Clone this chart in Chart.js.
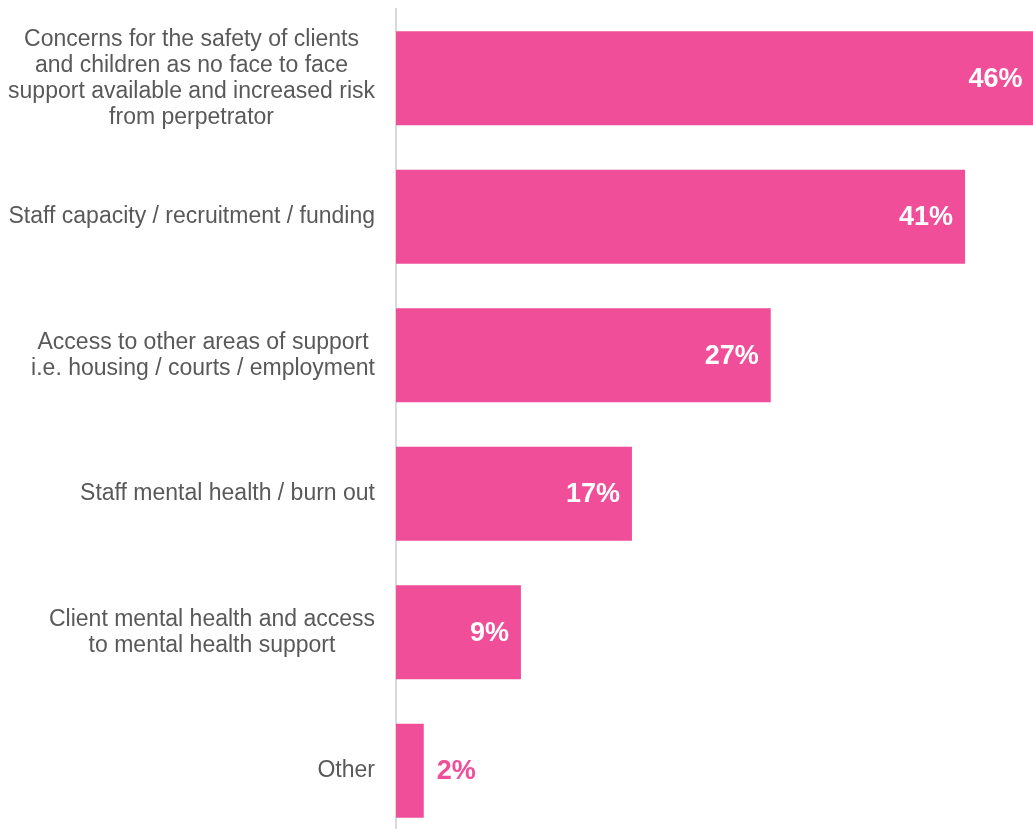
<!DOCTYPE html>
<html>
<head>
<meta charset="utf-8">
<script src="https://cdn.jsdelivr.net/npm/chart.js@4"></script>
<style>
  html, body { margin: 0; padding: 0; background: #fff; overflow: hidden; }
  #wrap { width: 1040px; height: 840px; }
</style>
</head>
<body>
<div id="wrap"><canvas id="barChart"></canvas></div>
<script>
// categories (each inner array is one label, split into lines)
var categories = [
  ['Concerns for the safety of clients', 'and children as no face to face', 'support available and increased risk', 'from perpetrator'],
  ['Staff capacity / recruitment / funding'],
  ['Access to other areas of support', 'i.e. housing / courts / employment'],
  ['Staff mental health / burn out'],
  ['Client mental health and access', 'to mental health support'],
  ['Other']
];
var percentages = [46, 41, 27, 17, 9, 2];

var pink = '#F04E98';
var grey = '#595959';

// category labels: each block centred on its own widest line, block right-aligned to the axis
var categoryLabels = {
  id: 'categoryLabels',
  afterDraw: function(chart) {
    var ctx = chart.ctx;
    var yScale = chart.scales.y;
    var rightEdge = chart.chartArea.left - 21;
    var lineH = 26;
    ctx.save();
    ctx.font = '23px "Liberation Sans", Arial, sans-serif';
    ctx.fillStyle = grey;
    ctx.textAlign = 'center';
    ctx.textBaseline = 'middle';
    categories.forEach(function(lines, i) {
      var widest = 0;
      lines.forEach(function(l) { widest = Math.max(widest, ctx.measureText(l).width); });
      var cx = rightEdge - widest / 2;
      var cy = yScale.getPixelForTick(i);
      var top = cy - (lines.length - 1) * lineH / 2;
      lines.forEach(function(l, j) { ctx.fillText(l, cx, top + j * lineH); });
    });
    ctx.restore();
  }
};

// percentage labels at the end of each bar, moved outside when the bar is too short
var valueLabels = {
  id: 'valueLabels',
  afterDatasetsDraw: function(chart) {
    var ctx = chart.ctx;
    var meta = chart.getDatasetMeta(0);
    var offset = 12;
    ctx.save();
    ctx.font = 'bold 27px "Liberation Sans", Arial, sans-serif';
    ctx.textBaseline = 'middle';
    meta.data.forEach(function(bar, i) {
      var txt = percentages[i] + '%';
      var w = ctx.measureText(txt).width;
      var barW = bar.x - bar.base;
      if (w + offset * 2 < barW) {
        ctx.fillStyle = '#ffffff';
        ctx.textAlign = 'right';
        ctx.fillText(txt, bar.x - offset, bar.y + 1);
      } else {
        ctx.fillStyle = pink;
        ctx.textAlign = 'left';
        ctx.fillText(txt, bar.x + offset + 1, bar.y + 1);
      }
    });
    ctx.restore();
  }
};

var ctxBar = document.getElementById('barChart');
var barChart = new Chart(ctxBar, {
  type: 'bar',
  data: {
    labels: categories,
    datasets: [{
      data: percentages,
      backgroundColor: pink,
      borderWidth: 0,
      categoryPercentage: 1,
      barPercentage: 0.68
    }]
  },
  options: {
    indexAxis: 'y',
    responsive: true,
    maintainAspectRatio: false,
    animation: false,
    layout: { padding: { top: 9, right: 0, bottom: 0, left: 0 } },
    plugins: {
      legend: { display: false },
      tooltip: { enabled: false }
    },
    scales: {
      x: {
        display: false,
        min: 0,
        max: 46.4
      },
      y: {
        ticks: { display: false },
        grid: { display: false },
        border: { display: true, color: '#d9d9d9', width: 2 },
        afterFit: function(scale) { scale.width = 396; }
      }
    }
  },
  plugins: [categoryLabels, valueLabels]
});
</script>
</body>
</html>
